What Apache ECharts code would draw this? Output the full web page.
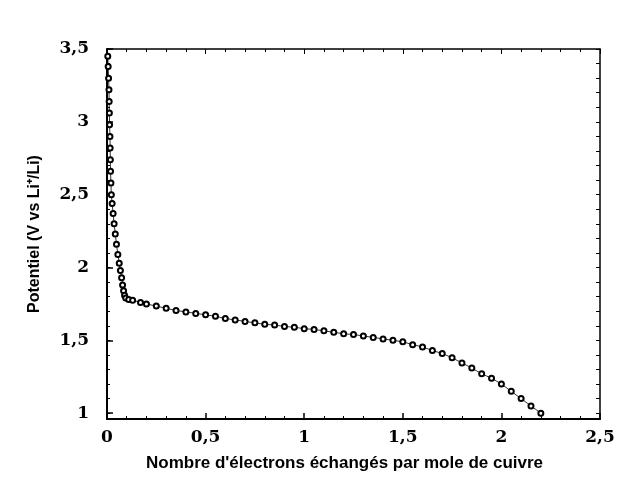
<!DOCTYPE html>
<html>
<head>
<meta charset="utf-8">
<script src="https://cdn.jsdelivr.net/npm/echarts@6/dist/echarts.min.js"></script>
<style>html,body{margin:0;padding:0;background:#fff;}#c{width:619px;height:492px;}</style>
</head>
<body>
<div id="c"></div>
<script>
const xValues = [0.004,0.006,0.008,0.010,0.011,0.012,0.013,0.015,0.016,0.017,0.018,0.020,0.022,0.026,0.031,0.036,0.042,0.048,0.055,0.062,0.068,0.074,0.079,0.084,0.089,0.095,0.11,
  0.13,0.17,0.20,0.25,0.30,0.35,0.40,0.45,0.50,0.55,0.60,0.65,0.70,0.75,0.80,0.85,0.90,0.95,1.00,1.05,1.10,1.15,1.20,1.25,1.30,1.35,1.40,1.45,1.50,1.55,1.60,1.65,1.70,1.75,1.80,1.85,1.90,1.95,2.00,2.05,2.10,2.15,2.20];
const yValues = [3.45,3.38,3.30,3.22,3.14,3.06,2.98,2.90,2.82,2.74,2.66,2.58,2.50,2.44,2.37,2.30,2.23,2.16,2.09,2.03,1.98,1.93,1.88,1.84,1.81,1.79,1.78,
  1.775,1.76,1.75,1.735,1.72,1.705,1.695,1.685,1.675,1.665,1.65,1.64,1.63,1.62,1.61,1.605,1.595,1.59,1.58,1.575,1.565,1.555,1.545,1.54,1.53,1.52,1.51,1.50,1.49,1.47,1.455,1.43,1.41,1.38,1.345,1.31,1.27,1.24,1.20,1.15,1.10,1.05,1.00];
const yMajorTicks = [1,1.5,2,2.5,3,3.5];
const yMinorTicks = [1,1.1,1.2,1.3,1.4,1.5,1.6,1.7,1.8,1.9,2,2.1,2.2,2.3,2.4,2.5,2.6,2.7,2.8,2.9,3,3.1,3.2,3.3,3.4,3.5];
const xTitle = "Nombre d'électrons échangés par mole de cuivre";
const yTitle = "Potentiel (V vs Li\u207A/Li)";

const fmt = v => String(Math.round(v*10)/10).replace('.', ',');
const labelFont = {fontFamily:'DejaVu Serif', fontWeight:'bold', fontSize:17, color:'#000'};
const chart = echarts.init(document.getElementById('c'), null, {renderer:'canvas'});
chart.setOption({
  animation:false,
  backgroundColor:'#fff',
  grid:{left:107, right:19, top:49, bottom:73, containLabel:false},
  xAxis:[{
    type:'value', min:0, max:2.5, interval:0.5, position:'bottom',
    axisLine:{lineStyle:{color:'#000', width:2}},
    axisTick:{inside:true, length:6, lineStyle:{color:'#000', width:1.5}},
    minorTick:{show:true, splitNumber:5, length:3, lineStyle:{color:'#000'}},
    splitLine:{show:false},
    axisLabel:Object.assign({formatter:fmt, margin:10}, labelFont),
    name:xTitle, nameLocation:'middle', nameGap:36,
    nameTextStyle:{fontFamily:'Liberation Sans', fontWeight:'bold', fontSize:17, color:'#000', padding:[0,18,0,0]}
  },{
    type:'value', min:0, max:2.5, interval:0.5, position:'top',
    axisLine:{lineStyle:{color:'#000', width:1.5}},
    axisTick:{inside:true, length:5, lineStyle:{color:'#000'}},
    minorTick:{show:true, splitNumber:5, length:3, lineStyle:{color:'#000'}},
    splitLine:{show:false}, axisLabel:{show:false}
  }],
  yAxis:[{
    type:'value', min:0.96, max:3.5, position:'left',
    axisLine:{lineStyle:{color:'#000', width:2}},
    axisTick:{inside:true, length:6, customValues:yMajorTicks, lineStyle:{color:'#000', width:1.5}},
    splitLine:{show:false},
    axisLabel:Object.assign({formatter:fmt, margin:18, customValues:yMajorTicks}, labelFont),
    name:yTitle, nameLocation:'middle', nameGap:64, nameRotate:90,
    nameTextStyle:{fontFamily:'Liberation Sans', fontWeight:'bold', fontSize:16, color:'#000'}
  },{
    type:'value', min:0.96, max:3.5, position:'left',
    axisLine:{show:false},
    axisTick:{inside:true, length:3, customValues:yMinorTicks, lineStyle:{color:'#000'}},
    splitLine:{show:false}, axisLabel:{show:false}
  },{
    type:'value', min:0.96, max:3.5, position:'right',
    axisLine:{show:true, lineStyle:{color:'#000', width:1.5}},
    axisTick:{inside:true, length:4, customValues:yMinorTicks, lineStyle:{color:'#000'}},
    splitLine:{show:false}, axisLabel:{show:false}
  }],
  series:[{
    type:'line', xAxisIndex:0, yAxisIndex:0,
    data:xValues.map((x,i)=>[x,yValues[i]]),
    symbol:'emptyCircle', symbolSize:5, showAllSymbol:true,
    lineStyle:{color:'#000', width:0.8},
    itemStyle:{color:'#000', borderColor:'#000', borderWidth:0.9}
  }]
});
</script>
</body>
</html>
